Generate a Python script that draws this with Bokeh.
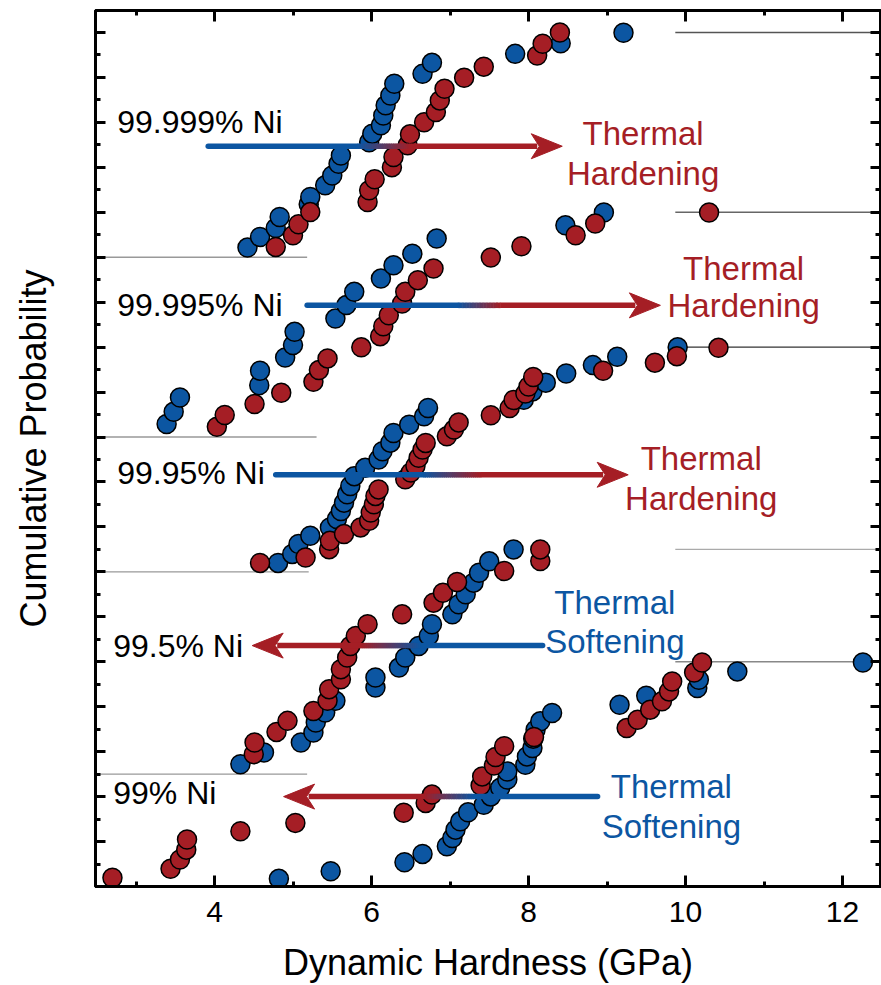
import numpy as np
from bokeh.plotting import figure
from bokeh.models import (Range1d, LinearAxis, SingleIntervalTicker, CustomJSTickFormatter,
                          CustomLabelingPolicy)
from bokeh.embed import file_html
from bokeh.resources import INLINE
from bokeh.core.properties import value

# ---------------- data (hardness in GPa, cumulative probability 0..1) ----------------
groups = ["99.999% Ni", "99.995% Ni", "99.95% Ni", "99.5% Ni", "99% Ni"]

g1_blue_h = [4.42, 4.58, 4.78, 4.83, 5.20, 5.22, 5.41, 5.50, 5.58, 5.61, 5.97, 6.01, 6.12, 6.15, 6.18, 6.24, 6.29, 6.65, 6.77, 7.83, 8.41, 9.21]
g1_blue_p = [0.043, 0.090, 0.130, 0.179, 0.236, 0.268, 0.320, 0.364, 0.416, 0.453, 0.512, 0.550, 0.587, 0.631, 0.676, 0.720, 0.772, 0.816, 0.865, 0.905, 0.952, 0.999]
g1_red_h = [4.78, 5.00, 5.07, 5.22, 5.95, 5.97, 6.04, 6.26, 6.28, 6.46, 6.49, 6.67, 6.82, 6.87, 6.93, 7.18, 7.43, 8.11, 8.18, 8.40]
g1_red_p = [0.046, 0.098, 0.147, 0.201, 0.246, 0.298, 0.347, 0.401, 0.446, 0.498, 0.547, 0.601, 0.646, 0.698, 0.750, 0.799, 0.848, 0.898, 0.950, 1.0]

g2_blue_h = [3.39, 3.48, 3.56, 4.57, 4.58, 4.90, 5.00, 5.02, 5.54, 5.68, 5.78, 6.12, 6.28, 6.52, 6.83, 8.47, 8.96]
g2_blue_p = [0.058, 0.112, 0.176, 0.231, 0.295, 0.354, 0.409, 0.468, 0.527, 0.587, 0.646, 0.705, 0.764, 0.816, 0.883, 0.942, 0.999]
g2_red_h = [4.03, 4.13, 4.51, 4.85, 5.26, 5.33, 5.44, 5.87, 6.11, 6.15, 6.22, 6.39, 6.43, 6.59, 6.79, 7.52, 7.91, 8.60, 8.85, 10.30]
g2_red_p = [0.046, 0.098, 0.147, 0.197, 0.246, 0.298, 0.350, 0.399, 0.449, 0.493, 0.542, 0.594, 0.646, 0.698, 0.750, 0.799, 0.849, 0.898, 0.950, 0.999]

g3_blue_h = [4.81, 4.99, 5.07, 5.22, 5.47, 5.56, 5.61, 5.65, 5.69, 5.73, 5.78, 5.92, 6.09, 6.14, 6.24, 6.28, 6.48, 6.67, 6.72, 7.94, 8.05, 8.22, 8.48, 8.82, 9.13, 9.90]
g3_blue_p = [0.040, 0.080, 0.124, 0.161, 0.198, 0.235, 0.271, 0.308, 0.345, 0.382, 0.426, 0.463, 0.500, 0.537, 0.575, 0.618, 0.655, 0.692, 0.729, 0.766, 0.803, 0.842, 0.883, 0.920, 0.957, 0.999]
g3_red_h = [4.58, 5.16, 5.46, 5.47, 5.65, 5.86, 5.97, 5.99, 6.03, 6.05, 6.09, 6.43, 6.50, 6.56, 6.60, 6.65, 6.69, 6.96, 7.05, 7.11, 7.52, 7.76, 7.81, 7.96, 8.00, 8.06, 8.95, 9.61, 9.89, 10.42]
g3_red_p = [0.040, 0.064, 0.101, 0.138, 0.168, 0.198, 0.227, 0.264, 0.301, 0.338, 0.367, 0.412, 0.442, 0.471, 0.508, 0.544, 0.574, 0.603, 0.633, 0.665, 0.697, 0.729, 0.765, 0.794, 0.825, 0.867, 0.895, 0.931, 0.960, 0.997]

g4_blue_h = [4.33, 4.63, 5.10, 5.26, 5.29, 5.41, 5.54, 6.05, 6.05, 6.35, 6.43, 6.60, 6.73, 6.77, 7.03, 7.11, 7.20, 7.30, 7.37, 7.50, 7.81]
g4_blue_p = [0.044, 0.096, 0.141, 0.185, 0.230, 0.274, 0.326, 0.385, 0.430, 0.474, 0.519, 0.570, 0.615, 0.667, 0.711, 0.756, 0.800, 0.852, 0.896, 0.947, 1.0]
g4_red_h = [4.50, 4.51, 4.79, 4.93, 5.26, 5.44, 5.46, 5.61, 5.61, 5.69, 5.73, 5.80, 5.95, 6.39, 6.79, 6.91, 7.09, 7.69, 8.15, 8.15]
g4_red_p = [0.089, 0.141, 0.188, 0.237, 0.281, 0.326, 0.378, 0.422, 0.467, 0.519, 0.570, 0.615, 0.667, 0.711, 0.763, 0.807, 0.855, 0.904, 0.948, 1.0]

g5_blue_h = [4.82, 5.48, 6.42, 6.65, 6.96, 7.03, 7.07, 7.13, 7.23, 7.43, 7.52, 7.64, 7.73, 7.73, 7.96, 7.98, 8.05, 8.06, 8.09, 8.15, 8.30, 9.16, 9.50, 10.15, 10.17, 10.66, 12.26]
g5_blue_p = [0.034, 0.068, 0.108, 0.145, 0.179, 0.216, 0.253, 0.290, 0.330, 0.364, 0.401, 0.439, 0.476, 0.512, 0.542, 0.579, 0.616, 0.658, 0.698, 0.735, 0.772, 0.809, 0.849, 0.883, 0.920, 0.957, 0.997]
g5_red_h = [2.70, 3.44, 3.56, 3.64, 3.65, 4.33, 5.03, 6.41, 6.69, 6.77, 7.39, 7.41, 7.56, 7.58, 7.69, 8.07, 9.25, 9.39, 9.55, 9.70, 9.79, 9.83, 10.11, 10.21]
g5_red_p = [0.039, 0.079, 0.120, 0.164, 0.209, 0.246, 0.283, 0.328, 0.372, 0.409, 0.449, 0.490, 0.538, 0.576, 0.624, 0.665, 0.705, 0.742, 0.787, 0.824, 0.868, 0.912, 0.952, 0.997]

effects = ["Thermal\nHardening", "Thermal\nHardening", "Thermal\nHardening", "Thermal\nSoftening", "Thermal\nSoftening"]
x_ticks = [4, 6, 8, 10, 12]

# ---------------- layout / style ----------------
BLUE = "#0c56a2"
RED = "#a51e25"
FONT = "Liberation Sans"
offsets = [14.0, 10.0, 7.0, 2.5, 0.0]   # vertical stacking offsets
span = 5.0                               # height of each probability panel
X0, X1 = 2.484, 12.484
Y0, Y1 = 0.0, 19.49
PX_X = 78.5   # pixels per x unit (frame 785 px / 10 units)
PX_Y = 45.0   # pixels per y unit

blue_sets = [(g1_blue_h, g1_blue_p), (g2_blue_h, g2_blue_p), (g3_blue_h, g3_blue_p), (g4_blue_h, g4_blue_p), (g5_blue_h, g5_blue_p)]
red_sets = [(g1_red_h, g1_red_p), (g2_red_h, g2_red_p), (g3_red_h, g3_red_p), (g4_red_h, g4_red_p), (g5_red_h, g5_red_p)]

p = figure(width=881, height=985, x_range=Range1d(X0, X1), y_range=Range1d(Y0, Y1),
           output_backend="svg", toolbar_location=None,
           min_border_left=95, min_border_right=1, min_border_top=10, min_border_bottom=98)
p.xgrid.visible = False
p.ygrid.visible = False
p.outline_line_color = "black"
p.outline_line_width = 3
p.background_fill_color = "white"
p.border_fill_color = "white"

# reference lines (0 and 1 levels of each stacked CDF)
bottom_end = [5.18, 5.30, 5.20, 5.18, None]
top_start = 9.87
top_cols = ["#555555", "#666666", "#333333", "#aaaaaa", "#888888"]
for i in range(5):
    if bottom_end[i] is not None:
        p.line([X0, bottom_end[i]], [offsets[i], offsets[i]], line_color="#999999", line_width=1.4)
    yt = offsets[i] + span
    p.line([top_start, X1], [yt, yt], line_color=top_cols[i], line_width=1.4)

# data points
for i in range(5):
    bh, bp = blue_sets[i]
    rh, rp = red_sets[i]
    p.scatter(bh, [offsets[i] + span * v for v in bp], size=19, fill_color=BLUE,
              line_color="black", line_width=1.5)
    p.scatter(rh, [offsets[i] + span * v for v in rp], size=19, fill_color=RED,
              line_color="black", line_width=1.5)


def rgb(h):
    h = h.lstrip("#")
    return tuple(int(h[k:k + 2], 16) for k in (0, 2, 4))


def blend(c1, c2, t):
    a, b = rgb(c1), rgb(c2)
    return "#%02x%02x%02x" % tuple(int(round(a[k] + (b[k] - a[k]) * t)) for k in range(3))


head_xs, head_ys, head_cols = [], [], []


def gradient_arrow(y, x_tail, x_tip, g_tail, g_tip, c_tail, c_tip):
    d = 1 if x_tip > x_tail else -1
    lw = 5.5
    p.line([x_tail, g_tail], [y, y], line_color=c_tail, line_width=lw, line_cap="round")
    n = 30
    xs = np.linspace(g_tail, g_tip, n + 1)
    step = (g_tip - g_tail) / n
    x0s = list(xs[:-1])
    x1s = [v + step * 1.4 for v in xs[:-1]]
    cols = [blend(c_tail, c_tip, (k + 0.5) / n) for k in range(n)]
    p.segment(x0=x0s, y0=[y] * n, x1=x1s, y1=[y] * n, line_color=cols, line_width=lw)
    length, half, notch = 31 / PX_X, 12.5 / PX_Y, 23 / PX_X
    shaft_end = x_tip - d * (notch + 2 / PX_X)
    p.line([g_tip, shaft_end], [y, y], line_color=c_tip, line_width=lw)
    head_xs.append([x_tip, x_tip - d * length, x_tip - d * notch, x_tip - d * length])
    head_ys.append([y, y + half, y, y - half])
    head_cols.append(c_tip)


# arrows: (y, tail x, tip x, gradient start, gradient end, tail colour, tip colour)
arrows = [
    (16.47, 3.92, 8.43, 5.82, 6.50, BLUE, RED),
    (12.93, 5.18, 9.68, 7.10, 7.64, BLUE, RED),
    (9.16, 4.78, 9.27, 6.66, 7.39, BLUE, RED),
    (5.36, 8.18, 4.48, 6.62, 5.86, BLUE, RED),
    (2.00, 8.88, 4.88, 7.30, 6.66, BLUE, RED),
]
for a in arrows:
    gradient_arrow(*a)
p.patches(head_xs, head_ys, fill_color=head_cols, line_color=head_cols, line_width=1)

# group labels
lab_x = [2.76, 2.76, 2.76, 2.71, 2.71]
lab_y = [17.0, 12.93, 9.20, 5.36, 2.09]
p.text(x=lab_x, y=lab_y, text=groups, text_font=value(FONT), text_font_size="32px",
       text_color="black", text_align="left", text_baseline="middle")

# effect labels (two lines each)
eff_x = [9.46, 10.74, 10.20, 9.10, 9.82]
eff_y1 = [16.76, 13.76, 9.53, 6.31, 2.22]
eff_y2 = [15.87, 12.93, 8.64, 5.44, 1.33]
eff_col = [RED, RED, RED, BLUE, BLUE]
line1 = [e.split("\n")[0] for e in effects]
line2 = [e.split("\n")[1] for e in effects]
p.text(x=eff_x, y=eff_y1, text=line1, text_font=value(FONT), text_font_size="33px",
       text_color=eff_col, text_align="center", text_baseline="middle")
p.text(x=eff_x, y=eff_y2, text=line2, text_font=value(FONT), text_font_size="33px",
       text_color=eff_col, text_align="center", text_baseline="middle")

# axes
NO_LABELS = CustomLabelingPolicy(code="""
const ids = Array.from(indices)
for (const i of ids) indices.unset(i)
return indices
""")


def style_axis(ax, interval, nminor, labels, major_in=11):
    ax.ticker = SingleIntervalTicker(interval=interval, num_minor_ticks=nminor)
    ax.axis_line_width = 3
    ax.axis_line_color = "black"
    ax.major_tick_in = major_in
    ax.major_tick_out = 0
    ax.minor_tick_in = 5
    ax.minor_tick_out = 0
    ax.major_tick_line_width = 3
    ax.minor_tick_line_width = 3
    if labels:
        ax.major_label_text_font = FONT
        ax.major_label_text_font_size = "30px"
        ax.major_label_text_color = "black"
        ax.major_label_standoff = 15
    else:
        ax.formatter = CustomJSTickFormatter(code="return ''")
        ax.major_label_policy = NO_LABELS
        ax.major_label_text_font_size = "1px"
        ax.major_label_standoff = 0


xa = p.xaxis[0]
style_axis(xa, 2, 2, True)
xa.axis_label = "Dynamic Hardness (GPa)"
xa.axis_label_text_font = FONT
xa.axis_label_text_font_size = "36px"
xa.axis_label_text_font_style = "normal"
xa.axis_label_text_color = "black"
xa.axis_label_standoff = 17

ya = p.yaxis[0]
style_axis(ya, 1, 2, False, major_in=10)
ya.axis_label = "Cumulative Probability"
ya.axis_label_text_font = FONT
ya.axis_label_text_font_size = "36px"
ya.axis_label_text_font_style = "normal"
ya.axis_label_text_color = "black"
ya.axis_label_standoff = 42

top = LinearAxis()
style_axis(top, 2, 2, False)
p.add_layout(top, "above")
right = LinearAxis()
style_axis(right, 1, 2, False, major_in=10)
p.add_layout(right, "right")

open("out.html", "w").write(file_html(p, INLINE))
